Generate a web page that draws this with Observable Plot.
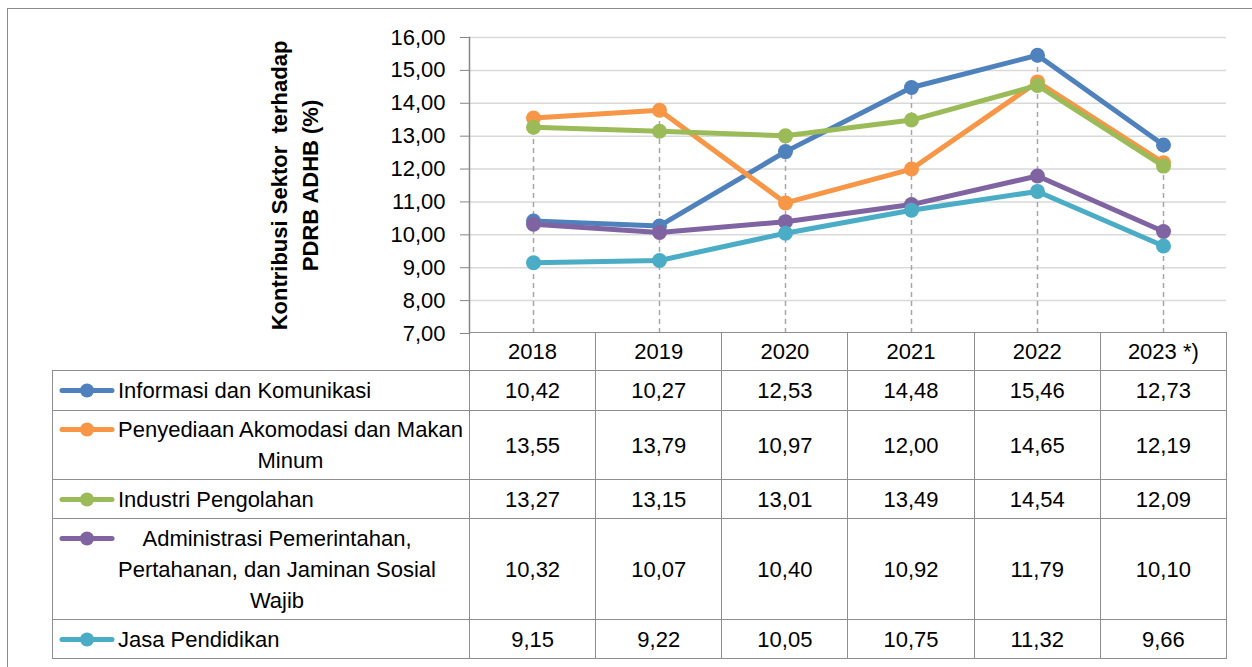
<!DOCTYPE html>
<html>
<head>
<meta charset="utf-8">
<script src="https://cdn.jsdelivr.net/npm/d3@7"></script>
<script src="https://cdn.jsdelivr.net/npm/@observablehq/plot@0.6"></script>
<style>
  body { margin: 0; background: #fff; }
  #wrap { position: relative; width: 1252px; height: 667px; overflow: hidden; background: #fff;
          font-family: "Liberation Sans", Arial, sans-serif; }
  #frame { position: absolute; left: 7px; top: 8px; width: 1300px; height: 700px; border: 1.5px solid #8a8a8a; }
  #chart { position: absolute; left: 0; top: 0; }
  #chart svg text { white-space: pre; }
  table { position: absolute; left: 52px; top: 332px; width: 1174px; border-collapse: collapse; table-layout: fixed;
          font-size: 22px; color: #000; }
  td { border: 1.5px solid #8e8e8e; padding: 0; text-align: center; vertical-align: middle; line-height: 31px; white-space: nowrap; overflow: hidden; }
  td.blank { border-top: none; border-left: none; }
  .lab { display: flex; align-items: flex-start; padding-left: 6px; text-align: left; }
  .lab .txt { margin-left: 3px; text-align: center; }
</style>
</head>
<body>
<div id="wrap">
  <div id="frame"></div>
  <div id="chart"></div>
  <table id="tbl"></table>
</div>
<script>
// ---- data ----
const years = ["2018", "2019", "2020", "2021", "2022", "2023 *)"];
const seriesLabels = [
  "Informasi dan Komunikasi",
  "Penyediaan Akomodasi dan Makan\nMinum",
  "Industri Pengolahan",
  "Administrasi Pemerintahan,\nPertahanan, dan Jaminan Sosial\nWajib",
  "Jasa Pendidikan"
];
const informasi  = [10.42, 10.27, 12.53, 14.48, 15.46, 12.73];
const akomodasi  = [13.55, 13.79, 10.97, 12.00, 14.65, 12.19];
const industri   = [13.27, 13.15, 13.01, 13.49, 14.54, 12.09];
const adminPem   = [10.32, 10.07, 10.40, 10.92, 11.79, 10.10];
const pendidikan = [9.15, 9.22, 10.05, 10.75, 11.32, 9.66];
const seriesValues = [informasi, akomodasi, industri, adminPem, pendidikan];
const colors = ["#4f81bd", "#f79646", "#9bbb59", "#8064a2", "#4bacc6"];
const yTicks = [7, 8, 9, 10, 11, 12, 13, 14, 15, 16];
const yTitle = "Kontribusi Sektor  terhadap\nPDRB ADHB (%)";

// ---- derived ----
const seriesNames = seriesLabels.map(s => s.replace(/\n/g, " "));
const data = seriesNames.flatMap((s, i) => years.map((y, j) => ({series: s, year: y, value: seriesValues[i][j]})));
const maxByYear = years.map((y, j) => ({year: y, max: d3.max(seriesValues, v => v[j])}));
const fmt = v => v.toFixed(2).replace(".", ",");
const FONT = '"Liberation Sans", Arial, sans-serif';

const seriesMarks = seriesNames.flatMap(s => {
  const d = data.filter(r => r.series === s);
  return [
    Plot.line(d, {x: "year", y: "value", stroke: "series", strokeWidth: 5}),
    Plot.dot(d, {x: "year", y: "value", fill: "series", r: 7.5})
  ];
});

const chart = Plot.plot({
  width: 1252,
  height: 340,
  marginLeft: 469,
  marginRight: 26,
  marginTop: 37,
  marginBottom: 7,
  style: {fontFamily: FONT, fontSize: "22px", background: "transparent", color: "#000", overflow: "visible"},
  x: {type: "point", domain: years, padding: 0.5, axis: null},
  y: {domain: [7, 16], axis: null},
  color: {domain: seriesNames, range: colors},
  marks: [
    Plot.ruleY(yTicks.slice(1), {stroke: "#d9d9d9", strokeWidth: 1.5}),
    Plot.ruleX(maxByYear, {x: "year", y1: 7, y2: "max", stroke: "#a6a6a6", strokeWidth: 1.5, strokeDasharray: "5,4"}),
    Plot.axisY(yTicks, {tickSize: 9, tickPadding: 15, tickFormat: fmt, stroke: "#868686", fill: "#000", fontSize: 22}),
    Plot.frame({anchor: "left", stroke: "#868686", strokeWidth: 1.5}),
    ...seriesMarks,
    Plot.text([yTitle], {text: d => d, frameAnchor: "left", textAnchor: "middle", lineAnchor: "middle", dx: -177, rotate: -90, fontWeight: "bold", fontSize: 22, lineHeight: 1.41, fill: "#000"})
  ]
});
document.getElementById("chart").appendChild(chart);

// ---- data table ----
const tbl = document.getElementById("tbl");
const colW = (1226 - 469) / years.length;
const rowHeights = [40, 69, 39, 101, 39];
let html = `<colgroup><col style="width:417px">${years.map(() => `<col style="width:${colW}px">`).join("")}</colgroup>`;
html += `<tr style="height:38px"><td class="blank"></td>${years.map(y => `<td>${y}</td>`).join("")}</tr>`;
seriesLabels.forEach((lab, i) => {
  const sw = `<svg width="56" height="31" style="flex:none"><line x1="3" x2="53" y1="15.5" y2="15.5" stroke="${colors[i]}" stroke-width="5" stroke-linecap="round"/><circle cx="28" cy="15.5" r="7" fill="${colors[i]}"/></svg>`;
  html += `<tr style="height:${rowHeights[i]}px"><td><div class="lab">${sw}<div class="txt">${lab.split("\n").join("<br>")}</div></div></td>` +
    seriesValues[i].map(v => `<td>${fmt(v)}</td>`).join("") + `</tr>`;
});
tbl.innerHTML = html;
</script>
</body>
</html>
